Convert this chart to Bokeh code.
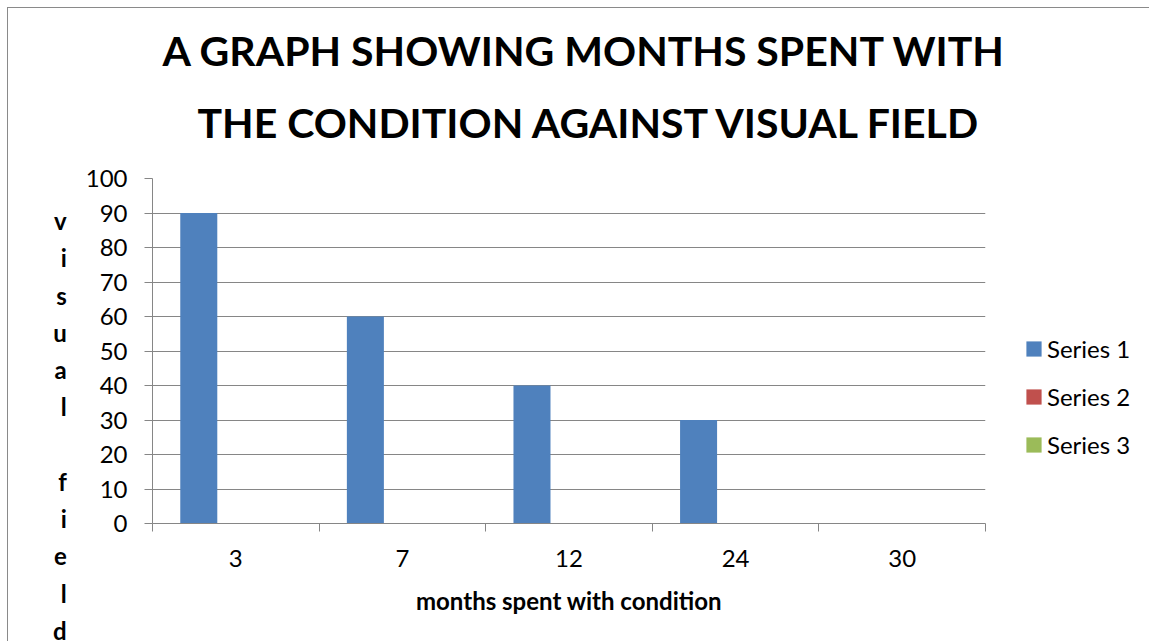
from bokeh.plotting import figure
from bokeh.models import FixedTicker, Legend, LegendItem, ColumnDataSource, Title
from bokeh.embed import file_html
from bokeh.resources import INLINE

categories = ["3", "7", "12", "24", "30"]
series_names = ["Series 1", "Series 2", "Series 3"]
series1 = [90, 60, 40, 30, 0]
series2 = [0, 0, 0, 0, 0]
series3 = [0, 0, 0, 0, 0]
y_ticks = [0, 10, 20, 30, 40, 50, 60, 70, 80, 90, 100]
title_lines = ["A GRAPH SHOWING MONTHS SPENT WITH", "THE CONDITION AGAINST VISUAL FIELD"]
x_label = "months spent with condition"
y_label = "visual field"

colors = ["#4F81BD", "#C0504D", "#9BBB59"]
FONT = "Lato"
GRAY = "#868686"

p = figure(frame_width=833, frame_height=345, output_backend="svg", toolbar_location=None,
           x_range=(0, len(categories)), y_range=(0, 100),
           min_border_left=144, min_border_right=164, min_border_top=170, min_border_bottom=118)
p.styles = {"border-top": "1px solid #8a8a8a", "border-left": "1px solid #8a8a8a",
            "margin-left": "7px", "margin-top": "7px"}
p.outline_line_color = None
p.background_fill_color = "white"
p.border_fill_color = "white"

n_series = 3
bar_w = 1.0 / (n_series + 1.5)
all_series = [series1, series2, series3]
renderers = []
for k, vals in enumerate(all_series):
    xs = [i + 0.5 + (k - 1) * bar_w for i in range(len(categories))]
    src = ColumnDataSource(dict(x=xs, top=vals))
    r = p.vbar(x="x", top="top", bottom=0, width=bar_w, source=src,
               fill_color=colors[k], line_color=None)
    renderers.append(r)

# titles (line 2 added first = closest to plot)
p.title.visible = False
for txt, so, off in [(title_lines[1], 63, 45), (title_lines[0], -21, 10)]:
    p.add_layout(Title(text=txt, align="left", offset=off, text_font=FONT,
                       text_font_size="41px", text_font_style="bold",
                       text_color="black", standoff=so), "above")

# y axis
ya = p.yaxis[0]
ya.ticker = FixedTicker(ticks=y_ticks)
ya.major_tick_out = 8
ya.major_tick_in = 0
ya.minor_tick_line_color = None
ya.major_tick_line_color = GRAY
ya.axis_line_color = GRAY
ya.major_label_standoff = 17
ya.major_label_text_font = FONT
ya.major_label_text_font_size = "24px"
ya.major_label_text_color = "black"
ya.axis_label = "\n".join([" "] * 4 + [" " if ch == " " else ch for ch in y_label])
ya.axis_label_orientation = "horizontal"
ya.axis_label_text_font = FONT
ya.axis_label_text_font_size = "24px"
ya.axis_label_text_font_style = "bold"
ya.axis_label_text_color = "black"
ya.axis_label_text_line_height = 1.285
ya.axis_label_text_align = "center"
ya.axis_label_standoff = 16

# x axis
xa = p.xaxis[0]
centers = [i + 0.5 for i in range(len(categories))]
xa.ticker = FixedTicker(ticks=centers, minor_ticks=list(range(len(categories) + 1)))
xa.major_label_overrides = {c: lab for c, lab in zip(centers, categories)}
xa.major_tick_line_color = None
xa.major_tick_out = 0
xa.major_tick_in = 0
xa.minor_tick_out = 8
xa.minor_tick_in = 0
xa.minor_tick_line_color = GRAY
xa.axis_line_color = GRAY
xa.major_label_standoff = 18
xa.major_label_text_font = FONT
xa.major_label_text_font_size = "24px"
xa.major_label_text_color = "black"
xa.axis_label = x_label
xa.axis_label_text_font = FONT
xa.axis_label_text_font_size = "24px"
xa.axis_label_text_font_style = "bold"
xa.axis_label_text_color = "black"
xa.axis_label_standoff = 16

p.xgrid.visible = False
p.ygrid.ticker = FixedTicker(ticks=y_ticks)
p.ygrid.grid_line_color = GRAY
p.ygrid.grid_line_width = 1

legend = Legend(items=[LegendItem(label=n, renderers=[r]) for n, r in zip(series_names, renderers)],
                location=(39, 64), orientation="vertical",
                glyph_width=19, glyph_height=19, label_height=24, spacing=19,
                label_standoff=4, padding=0, margin=0,
                label_text_font=FONT, label_text_font_size="24px", label_text_color="black",
                border_line_color=None, background_fill_alpha=0)
p.add_layout(legend, "right")

open("out.html", "w").write(file_html(p, INLINE))
